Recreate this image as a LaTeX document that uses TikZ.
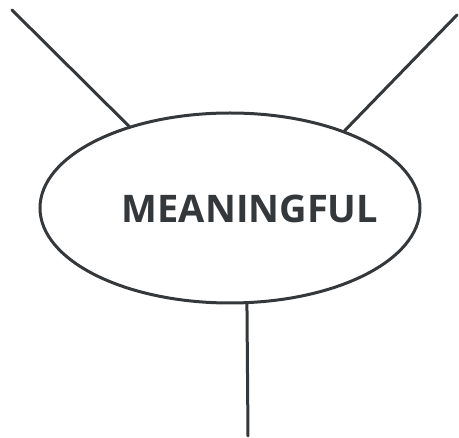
\documentclass[tikz,border=0pt]{standalone}
\usetikzlibrary{shapes.geometric}
\usepackage{fontspec}
\setmainfont{Open Sans}
\definecolor{ink}{HTML}{35383B}
\begin{document}
\begin{tikzpicture}[x=1pt,y=-1pt,
  stroke/.style={draw=ink,line width=3pt,line cap=round},
  bubble/.style={draw=ink,line width=3pt,ellipse,minimum width=380pt,minimum height=190pt,inner sep=0pt}]
\useasboundingbox (0,0) rectangle (459,438);
\node[bubble] (m) at (230,208) {};
\node[text=ink,font=\bfseries\fontsize{38}{44}\selectfont] (t) at (250,209) {MEANINGFUL};
\coordinate (a) at (12,10);
\coordinate (b) at (457,15);
\coordinate (c) at (248,436);
\draw[stroke] (a) -- (m.141);
\draw[stroke] (b) -- (m.34);
\draw[stroke] (c) -- (m.280);
\end{tikzpicture}
\end{document}
